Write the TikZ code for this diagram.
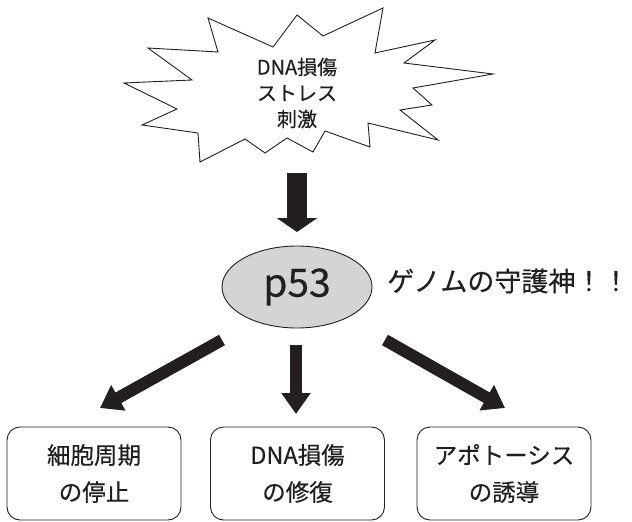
\documentclass[tikz,border=0pt]{standalone}
\usepackage{fontspec}
\setmainfont{Noto Sans CJK JP}[FakeBold=0.4]
\usetikzlibrary{arrows.meta,shapes.geometric}
\definecolor{ink}{HTML}{231F20}
\definecolor{shade}{HTML}{D4D4D4}
\tikzset{
  x=1pt, y=1pt,
  burst/.style={draw=ink, line width=0.9pt, line join=miter, fill=white},
  bursttext/.style={text=ink, font=\fontsize{20}{26}\selectfont, align=center},
  hub/.style={ellipse, draw=ink, line width=0.9pt, fill=shade, minimum width=150pt, minimum height=82pt, inner sep=0pt, text=ink, font=\fontsize{39}{40}\selectfont},
  note/.style={text=ink, font=\fontsize{27}{30}\selectfont, anchor=west, inner sep=0pt},
  outcome/.style={draw=ink, line width=0.9pt, rounded corners=13pt, minimum width=174pt, minimum height=93pt, inner sep=0pt, align=center, text=ink, font=\fontsize{23.5}{37}\selectfont},
  bigarrow/.style={draw=ink, line width=20pt, -{Triangle[width=40pt,length=14pt]}},
  smallarrow/.style={draw=ink, line width=12pt, -{Triangle[width=28pt,length=21pt]}}
}
\begin{document}
\begin{tikzpicture}
\useasboundingbox (0,0) rectangle (632,-522);
% starburst
\draw[burst] (208,-18) -- (273,-47) -- (297,-15) -- (323,-36) -- (383,-8) -- (375,-53)
  -- (435,-40) -- (404,-63) -- (493,-74) -- (413,-88) -- (432,-105) -- (400,-110)
  -- (438,-140) -- (368,-123) -- (370,-147) -- (325,-131) -- (313,-152) -- (287,-138)
  -- (265,-153) -- (245,-139) -- (200,-162) -- (198,-133) -- (142,-125) -- (177,-109)
  -- (124,-83) -- (192,-80) -- (148,-48) -- (218,-52) -- cycle;
\node[bursttext] (stimulus) at (297,-93) {DNA損傷\\ストレス\\刺激};
% p53
\node[hub] (p53) at (297,-287) {p53};
\node[note] (guardian) at (387,-281) {ゲノムの守護神！！};
% outcomes
\node[outcome] (arrest) at (94,-473.5) {細胞周期\\の停止};
\node[outcome] (repair) at (297.5,-473.5) {DNA損傷\\の修復};
\node[outcome] (apop) at (504,-473.5) {アポトーシス\\の誘導};
% arrow end points
\coordinate (s0) at (297,-173);
\coordinate (s1) at (297,-232);
\coordinate (a0) at (222,-340);
\coordinate (a1) at (100,-408);
\coordinate (r0) at (296,-345);
\coordinate (r1) at (296,-414);
\coordinate (p0) at (385,-340);
\coordinate (p1) at (505,-408);
\draw[bigarrow] (s0) -- (s1);
\draw[smallarrow] (a0) -- (a1);
\draw[smallarrow] (r0) -- (r1);
\draw[smallarrow] (p0) -- (p1);
\end{tikzpicture}
\end{document}
